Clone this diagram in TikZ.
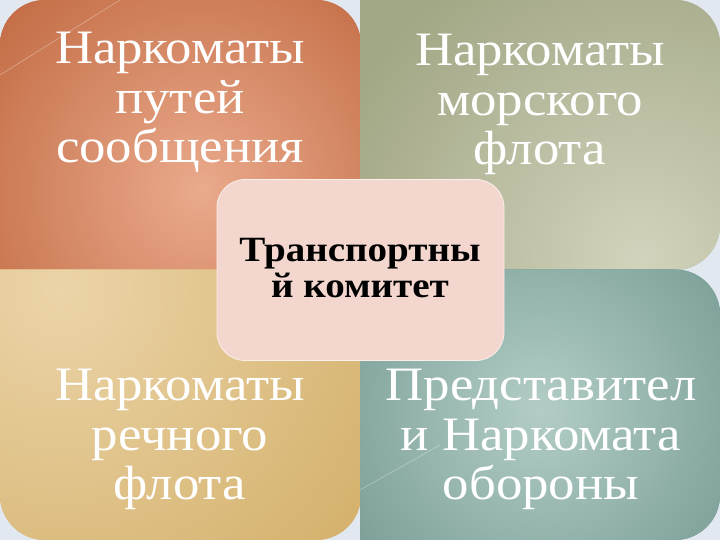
\documentclass[tikz,border=0pt]{standalone}
\usepackage{fontspec}
\setmainfont{Liberation Serif}
\newfontfamily\quadfont[FakeStretch=1.1]{Liberation Serif}
\begin{document}
\begin{tikzpicture}[x=1pt,y=1pt,
  quadtext/.style={anchor=base,align=center,text=white,inner sep=0pt,
    font=\quadfont\fontsize{48}{49.5}\selectfont},
  centertext/.style={anchor=base,align=center,text=black,inner sep=0pt,
    font=\quadfont\fontsize{35.5}{36}\selectfont\bfseries},
  deco/.style={white,opacity=0.35,line width=0.6pt}]
\definecolor{bgc}{HTML}{E2E8EF}
\definecolor{tlin}{HTML}{EAAA8C}\definecolor{tlout}{HTML}{BE653C}
\definecolor{trin}{HTML}{D2D3BC}\definecolor{trout}{HTML}{A2A785}
\definecolor{blin}{HTML}{EBD4A8}\definecolor{blout}{HTML}{D2AE66}
\definecolor{brin}{HTML}{B2CDC6}\definecolor{brout}{HTML}{6A9189}
\definecolor{cfill}{HTML}{F3D6CE}
\useasboundingbox (0,0) rectangle (720,540);
\fill[bgc] (0,0) rectangle (720,540);
% top-left
\begin{scope}
\clip[rounded corners=45pt] (0,270) -- (0,540) -- (361,540) [sharp corners]-- (361,270) -- cycle;
\fill[tlout] (0,270) rectangle (361,540);
\shade[inner color=tlin,outer color=tlout] (200,350) circle (300);
\end{scope}
% top-right
\begin{scope}
\clip (360,270) -- (360,540) [rounded corners=45pt]-- (720,540) -- (720,270) [sharp corners]-- cycle;
\fill[trout] (360,270) rectangle (720,540);
\shade[inner color=trin,outer color=trout] (640,280) circle (330);
\end{scope}
% bottom-left
\begin{scope}
\clip (0,270.5) [rounded corners=45pt]-- (0,0) -- (361,0) [sharp corners]-- (361,270.5) -- cycle;
\fill[blout] (0,0) rectangle (361,271);
\shade[inner color=blin,outer color=blout] (60,250) circle (420);
\end{scope}
% bottom-right
\begin{scope}
\clip (360,270.5) -- (360,0) [rounded corners=45pt]-- (720,0) -- (720,270.5) [sharp corners]-- cycle;
\fill[brout] (360,0) rectangle (720,271);
\shade[inner color=brin,outer color=brout] (540,130) circle (300);
\end{scope}
% faint decorative lines
\draw[deco] (0,465) -- (120,540);
\draw[deco] (360,50) -- (440,95);
% centre box
\node[draw=white!60!cfill,line width=0.8pt,fill=cfill,rounded corners=28pt,
  minimum width=287pt,minimum height=181pt,inner sep=0pt] (box) at (360.5,270) {};
\node[centertext] (ctext) at (360,242) {Транспортны\\й комитет};
% quadrant texts
\node[quadtext] (tl) at (180,377) {Наркоматы\\путей\\сообщения};
\node[quadtext] (tr) at (540,375) {Наркоматы\\морского\\флота};
\node[quadtext] (bl) at (180,40) {Наркоматы\\речного\\флота};
\node[quadtext] (br) at (541,40) {Представител\\и Наркомата\\обороны};
\end{tikzpicture}
\end{document}
